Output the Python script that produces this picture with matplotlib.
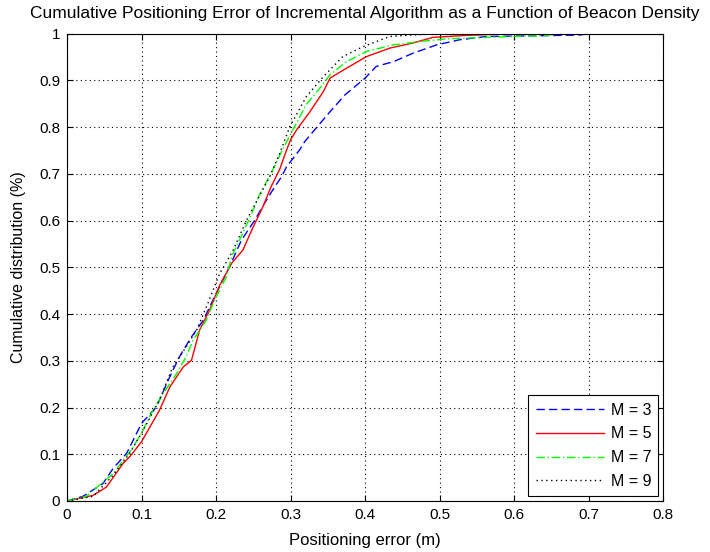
import matplotlib
matplotlib.use('Agg')
import matplotlib.pyplot as plt

plt.rcParams['font.family'] = ['Liberation Sans', 'DejaVu Sans']

# curvas (error en m, distribucion acumulada)
x_m3 = [0, 0.0215, 0.048, 0.062, 0.080, 0.100, 0.120, 0.138, 0.151, 0.167, 0.183, 0.198,
        0.218, 0.234, 0.252, 0.265, 0.279, 0.288, 0.2945, 0.312, 0.319, 0.330, 0.353,
        0.373, 0.400, 0.415, 0.438, 0.464, 0.496, 0.527, 0.563, 0.608, 0.688, 0.70]
y_m3 = [0, 0.010, 0.037, 0.070, 0.102, 0.166, 0.2015, 0.266, 0.309, 0.351, 0.387, 0.437,
        0.501, 0.558, 0.601, 0.637, 0.673, 0.694, 0.715, 0.751, 0.769, 0.790, 0.833,
        0.869, 0.905, 0.930, 0.940, 0.958, 0.976, 0.987, 0.994, 0.995, 0.997, 1.0]

x_m5 = [0, 0.035, 0.053, 0.075, 0.086, 0.100, 0.124, 0.138, 0.156, 0.167, 0.178, 0.1915,
        0.205, 0.221, 0.236, 0.250, 0.263, 0.274, 0.2855, 0.293, 0.300, 0.308, 0.326,
        0.344, 0.353, 0.375, 0.402, 0.433, 0.464, 0.491, 0.532, 0.581, 0.60]
y_m5 = [0, 0.012, 0.030, 0.080, 0.098, 0.127, 0.194, 0.244, 0.287, 0.301, 0.366, 0.409,
        0.462, 0.509, 0.537, 0.587, 0.630, 0.673, 0.710, 0.744, 0.773, 0.794, 0.833,
        0.876, 0.905, 0.926, 0.951, 0.969, 0.980, 0.992, 0.996, 0.999, 1.0]

x_m7 = [0, 0.026, 0.062, 0.086, 0.100, 0.113, 0.129, 0.1445, 0.160, 0.169, 0.187, 0.198,
        0.214, 0.221, 0.232, 0.245, 0.259, 0.274, 0.2855, 0.303, 0.321, 0.339, 0.353,
        0.375, 0.402, 0.438, 0.473, 0.509, 0.545, 0.599, 0.6435, 0.66]
y_m7 = [0, 0.010, 0.059, 0.109, 0.145, 0.187, 0.230, 0.266, 0.309, 0.344, 0.387, 0.430,
        0.480, 0.523, 0.560, 0.605, 0.658, 0.701, 0.740, 0.794, 0.848, 0.883, 0.912,
        0.940, 0.962, 0.976, 0.983, 0.989, 0.991, 0.994, 0.996, 1.0]

x_m9 = [0, 0.035, 0.062, 0.084, 0.100, 0.124, 0.142, 0.160, 0.174, 0.189, 0.205, 0.223,
        0.241, 0.272, 0.2855, 0.299, 0.321, 0.344, 0.370, 0.397, 0.433, 0.460, 0.50]
y_m9 = [0, 0.010, 0.055, 0.102, 0.145, 0.216, 0.287, 0.330, 0.366, 0.423, 0.487, 0.537,
        0.601, 0.694, 0.744, 0.801, 0.865, 0.908, 0.951, 0.972, 0.994, 0.997, 1.0]

xticks = [0, 0.1, 0.2, 0.3, 0.4, 0.5, 0.6, 0.7, 0.8]
xlabels = ['0', '0.1', '0.2', '0.3', '0.4', '0.5', '0.6', '0.7', '0.8']
yticks = [0, 0.1, 0.2, 0.3, 0.4, 0.5, 0.6, 0.7, 0.8, 0.9, 1.0]
ylabels = ['0', '0.1', '0.2', '0.3', '0.4', '0.5', '0.6', '0.7', '0.8', '0.9', '1']

fig = plt.figure(figsize=(7.1, 5.52), dpi=100)
ax = fig.add_axes([0.0944, 0.0924, 0.8396, 0.8466])

ax.plot(x_m3, y_m3, color='#0000ff', linestyle=(0, (6, 3)), linewidth=1, label='M = 3')
ax.plot(x_m5, y_m5, color='#ff0000', linestyle='-', linewidth=1, label='M = 5')
ax.plot(x_m7, y_m7, color='#00ff00', linestyle=(0, (6, 2, 1, 2)), linewidth=1, label='M = 7')
ax.plot(x_m9, y_m9, color='k', linestyle=(0, (1, 2.5)), linewidth=1, label='M = 9')

ax.set_xlim(0, 0.8)
ax.set_ylim(0, 1)
ax.set_xticks(xticks)
ax.set_xticklabels(xlabels)
ax.set_yticks(yticks)
ax.set_yticklabels(ylabels)
ax.tick_params(direction='in', top=True, right=True, labelsize=11, length=4, pad=5)
ax.grid(True, color='k', linestyle=(0, (1, 3)), linewidth=0.8)

ax.set_xlabel('Positioning error (m)', fontsize=12, labelpad=8)
ax.set_ylabel('Cumulative distribution (%)', fontsize=11.5, labelpad=9)
ax.set_title('Cumulative Positioning Error of Incremental Algorithm as a Function of Beacon Density',
             fontsize=12.5, pad=11)

leg = ax.legend(loc='lower right', fontsize=11.5, handlelength=4.3, handletextpad=0.4,
                labelspacing=0.55, fancybox=False, framealpha=1, edgecolor='k',
                borderaxespad=0.3, borderpad=0.45)
leg.get_frame().set_linewidth(0.8)

fig.savefig('out.png', dpi=100)
